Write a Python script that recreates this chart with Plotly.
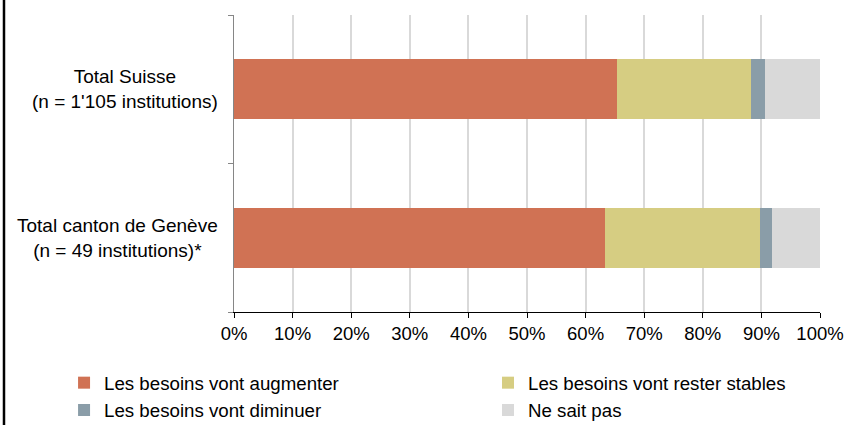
import plotly.graph_objects as go

categories = ["Total Suisse<br>(n = 1'105 institutions)", "Total canton de Genève<br>(n = 49 institutions)*"]
augmenter = [65.3, 63.3]
stables = [23.0, 26.5]
diminuer = [2.3, 2.0]
ne_sait_pas = [9.4, 8.2]
x_ticks = list(range(0, 101, 10))

# (name, values, colour, legend column)
series = [
    ("Les besoins vont augmenter", augmenter, "#D07254", "legend"),
    ("Les besoins vont rester stables", stables, "#D6CD82", "legend2"),
    ("Les besoins vont diminuer", diminuer, "#8A9DA8", "legend"),
    ("Ne sait pas", ne_sait_pas, "#D9D9D9", "legend2"),
]

FONT = "Liberation Sans, Arial"

fig = go.Figure()
for name, vals, color, leg in series:
    fig.add_trace(go.Bar(
        x=vals, y=categories, name=name, orientation="h",
        marker=dict(color=color, line=dict(width=0)),
        hoverinfo="skip", legend=leg,
    ))

# category labels centred on two lines, right-aligned block next to the axis
for cat in categories:
    fig.add_annotation(
        x=-0.024, xref="paper", y=cat, yref="y",
        text=cat, showarrow=False, xanchor="right", align="center",
        font=dict(family=FONT, size=19, color="black"),
    )

# left frame border
fig.add_shape(type="line", xref="paper", yref="paper",
              x0=-0.3925, x1=-0.3925, y0=-1, y1=2,
              line=dict(color="black", width=2.5))

leg_style = dict(
    orientation="v", xref="container", yref="container",
    xanchor="left", yanchor="top", y=0.1435,
    font=dict(family=FONT, size=18.7, color="black"),
    itemwidth=30, tracegroupgap=0, bgcolor="rgba(0,0,0,0)",
    traceorder="normal",
)

fig.update_layout(
    width=845, height=425,
    barmode="stack", bargap=0.595,
    plot_bgcolor="white", paper_bgcolor="white",
    margin=dict(l=234, r=25, t=15, b=113, autoexpand=False),
    font=dict(family=FONT, size=18.5, color="black"),
    showlegend=True,
    legend=dict(x=0.0758, **leg_style),
    legend2=dict(x=0.5775, **leg_style),
)

fig.update_xaxes(
    range=[0, 100], tickvals=x_ticks, ticktext=[f"{v}%" for v in x_ticks],
    showgrid=True, gridcolor="#D9D9D9", gridwidth=1.5,
    showline=True, linecolor="black", linewidth=1.2,
    ticks="outside", ticklen=5, tickcolor="black", tickwidth=1.2,
    zeroline=False, fixedrange=True, automargin=False,
)
fig.update_yaxes(
    categoryorder="array", categoryarray=categories[::-1],
    showticklabels=False, tickson="boundaries",
    ticks="outside", ticklen=5, tickcolor="#868686", tickwidth=1.2,
    showline=True, linecolor="#868686", linewidth=1.2,
    showgrid=False, fixedrange=True, automargin=False,
)

# drop the default 8px page margin so the figure sits at the window corner
fig.write_html("out.html", config={"displayModeBar": False},
               post_script="document.body.style.margin='0';")
